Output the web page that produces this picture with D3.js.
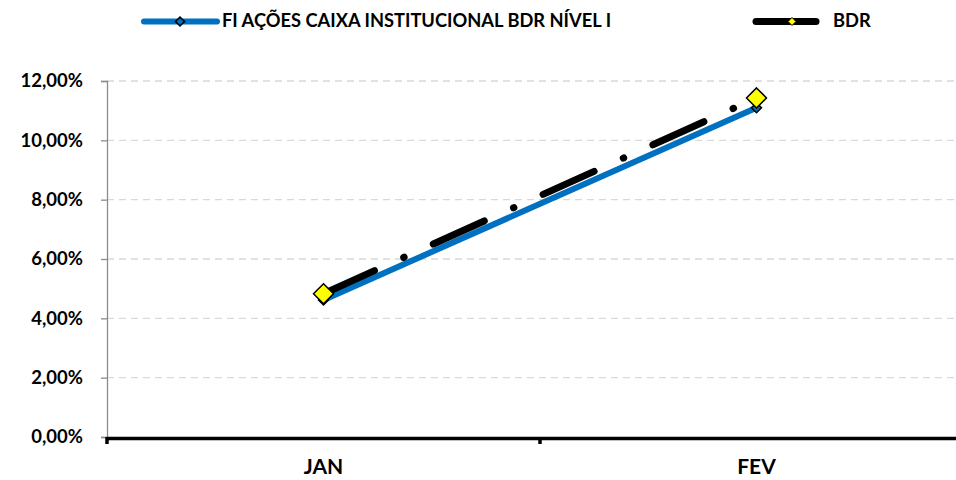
<!DOCTYPE html>
<html>
<head>
<meta charset="utf-8">
<script src="https://cdn.jsdelivr.net/npm/d3@7"></script>
<style>
  body { margin: 0; background: #fff; }
  text { font-family: Lato, "Open Sans", sans-serif; font-weight: bold; fill: #000; }
</style>
</head>
<body>
<script>
// categories and series values (fractions)
const months = ["JAN", "FEV"];
const fundValues = [0.0462, 0.1110];
const bdrValues = [0.0483, 0.1143];
const yTicks = [0, 0.02, 0.04, 0.06, 0.08, 0.10, 0.12];
const fundName = "FI AÇÕES CAIXA INSTITUCIONAL BDR NÍVEL I";
const bdrName = "BDR";

const width = 956, height = 480;
const plotLeft = 107, plotRight = 973, plotTop = 81, plotBottom = 437;

const ptBR = d3.formatLocale({decimal: ",", thousands: ".", grouping: [3], currency: ["R$", ""]});
const pct = ptBR.format(".2%");

const svg = d3.select("body")
  .append("svg")
  .attr("width", width)
  .attr("height", height);

const x = d3.scaleBand()
  .domain(months)
  .range([plotLeft, plotRight]);

const y = d3.scaleLinear()
  .domain([0, 0.12])
  .range([plotBottom, plotTop]);

// dashed gridlines
svg.append("g")
  .selectAll("line")
  .data(yTicks.filter(d => d > 0))
  .enter()
  .append("line")
  .attr("x1", plotLeft)
  .attr("x2", width)
  .attr("y1", d => y(d))
  .attr("y2", d => y(d))
  .attr("stroke", "#d9d9d9")
  .attr("stroke-width", 1.3)
  .attr("stroke-dasharray", "7,5");

// y axis
const yAxis = svg.append("g")
  .attr("transform", `translate(${plotLeft},0)`)
  .call(d3.axisLeft(y).tickValues(yTicks).tickFormat(pct).tickSize(6).tickPadding(18));
yAxis.select(".domain").attr("stroke", "#8c8c8c").attr("stroke-width", 1.3);
yAxis.selectAll(".tick line").attr("stroke", "#8c8c8c").attr("stroke-width", 1.3);
yAxis.selectAll(".tick text").attr("font-size", 18.5).attr("font-family", "Lato, sans-serif").attr("font-weight", "bold").attr("fill", "#000");

// x axis
const xAxis = svg.append("g")
  .attr("transform", `translate(0,${plotBottom + 1})`)
  .call(d3.axisBottom(x).tickSize(0).tickPadding(21));
xAxis.select(".domain").remove();
xAxis.selectAll(".tick text").attr("font-size", 21).attr("font-family", "Lato, sans-serif").attr("font-weight", "bold").attr("fill", "#000");

svg.append("line")
  .attr("x1", plotLeft).attr("x2", width)
  .attr("y1", plotBottom + 1.5).attr("y2", plotBottom + 1.5)
  .attr("stroke", "#000").attr("stroke-width", 3.5);

svg.append("g")
  .selectAll("line")
  .data(months)
  .enter()
  .append("line")
  .attr("x1", d => x(d)).attr("x2", d => x(d))
  .attr("y1", plotBottom).attr("y2", plotBottom + 7)
  .attr("stroke", "#000").attr("stroke-width", 3.5);

// lines
const line = d3.line()
  .x((d, i) => x(months[i]) + x.bandwidth() / 2)
  .y(d => y(d));

svg.append("path")
  .datum(fundValues)
  .attr("d", line)
  .attr("fill", "none")
  .attr("stroke", "#0070c0")
  .attr("stroke-width", 6);

svg.append("path")
  .datum(bdrValues)
  .attr("d", line)
  .attr("fill", "none")
  .attr("stroke", "#000")
  .attr("stroke-width", 7)
  .attr("stroke-linecap", "round")
  .attr("stroke-dasharray", "56,32,0.5,32");

const diamond = (cx, cy, r) => `M${cx},${cy - r}L${cx + r},${cy}L${cx},${cy + r}L${cx - r},${cy}Z`;

svg.append("g")
  .selectAll("path")
  .data(fundValues)
  .enter()
  .append("path")
  .attr("d", (d, i) => diamond(x(months[i]) + x.bandwidth() / 2, y(d), 5))
  .attr("fill", "#0070c0")
  .attr("stroke", "#000")
  .attr("stroke-width", 1.5);

svg.append("g")
  .selectAll("path")
  .data(bdrValues)
  .enter()
  .append("path")
  .attr("d", (d, i) => diamond(x(months[i]) + x.bandwidth() / 2, y(d), 10))
  .attr("fill", "#ffff00")
  .attr("stroke", "#000")
  .attr("stroke-width", 1.5);

// legend
const legend = svg.append("g");

legend.append("line")
  .attr("x1", 144).attr("x2", 217).attr("y1", 21.5).attr("y2", 21.5)
  .attr("stroke", "#0070c0").attr("stroke-width", 6).attr("stroke-linecap", "round");
legend.append("path")
  .attr("d", diamond(180, 21.5, 4.5))
  .attr("fill", "#0070c0").attr("stroke", "#000").attr("stroke-width", 1.5);
legend.append("text")
  .attr("x", 222).attr("y", 27)
  .attr("font-size", 18.3)
  .text(fundName);

legend.append("line")
  .attr("x1", 756).attr("x2", 816).attr("y1", 21.5).attr("y2", 21.5)
  .attr("stroke", "#000").attr("stroke-width", 7).attr("stroke-linecap", "round");
legend.append("path")
  .attr("d", diamond(792, 21.5, 4))
  .attr("fill", "#ffff00").attr("stroke", "#000").attr("stroke-width", 1);
legend.append("text")
  .attr("x", 833).attr("y", 27)
  .attr("font-size", 18.3)
  .text(bdrName);
</script>
</body>
</html>
